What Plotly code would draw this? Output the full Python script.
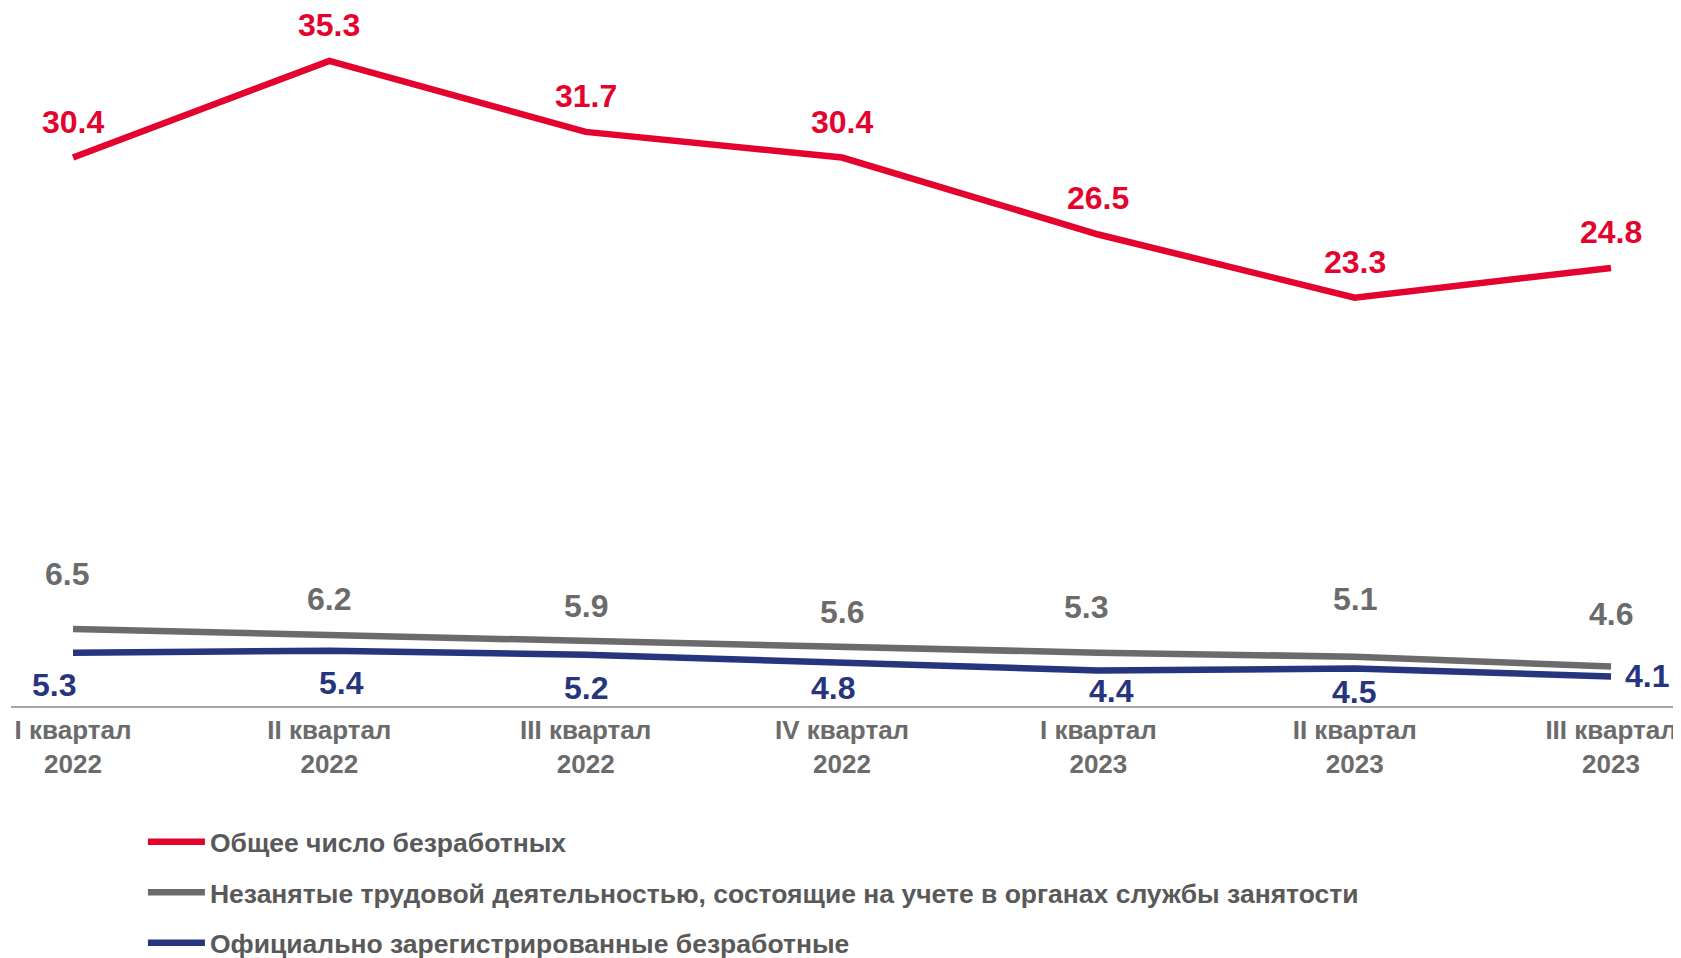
import plotly.graph_objects as go

categories = ["I квартал<br>2022", "II квартал<br>2022", "III квартал<br>2022", "IV квартал<br>2022",
              "I квартал<br>2023", "II квартал<br>2023", "III квартал<br>2023"]
total_unemployed = [30.4, 35.3, 31.7, 30.4, 26.5, 23.3, 24.8]
registered_jobless = [6.5, 6.2, 5.9, 5.6, 5.3, 5.1, 4.6]
official_unemployed = [5.3, 5.4, 5.2, 4.8, 4.4, 4.5, 4.1]
series_names = ["Общее число безработных",
                "Незанятые трудовой деятельностью, состоящие на учете в органах службы занятости",
                "Официально зарегистрированные безработные"]

RED = "#E4032E"
GRAY = "#6B6B6B"
BLUE = "#27357F"
FONT = "Liberation Sans"

# label offsets (pixels) for the data labels
red_off = [(0, 36)] * 7
gray_off = [(-6, 55), (0, 36), (0, 35), (0, 35), (-12, 46), (0, 58), (0, 53)]
blue_off = [(-19, -32), (12, -32), (0, -33), (-9, -25), (13, -21), (-1, -23), (36, 0)]

x_idx = list(range(len(categories)))

fig = go.Figure()
for i, (vals, col) in enumerate([(total_unemployed, RED), (registered_jobless, GRAY), (official_unemployed, BLUE)]):
    fig.add_trace(go.Scatter(
        x=x_idx, y=vals, mode="lines", name=series_names[i],
        line=dict(color=col, width=6.5), legendgroup=f"g{i}", hoverinfo="skip"))

annotations = []
for vals, col, offs in [(total_unemployed, RED, red_off), (registered_jobless, GRAY, gray_off),
                        (official_unemployed, BLUE, blue_off)]:
    for xi, v, (dx, dy) in zip(x_idx, vals, offs):
        annotations.append(dict(
            x=xi, y=v, xref="x", yref="y", text=f"<b>{v:.1f}</b>", showarrow=False,
            xshift=dx, yshift=dy, font=dict(family=FONT, size=32, color=col),
            xanchor="center", yanchor="middle"))

# the page body adds an 8px margin, so the figure is 8px smaller than the window
fig.update_layout(
    width=1673, height=950,
    margin=dict(l=3, r=0, t=0, b=252, autoexpand=False),
    paper_bgcolor="white", plot_bgcolor="white",
    showlegend=True,
    legend=dict(x=0.079, y=-0.1605, xanchor="left", yanchor="top",
                font=dict(family=FONT, size=26.5, color="#595959", weight="bold"),
                tracegroupgap=13, itemwidth=57, bgcolor="rgba(0,0,0,0)"),
    annotations=annotations,
    font=dict(family=FONT),
)
fig.update_xaxes(
    tickmode="array", tickvals=x_idx, ticktext=[f"<b>{c}</b>" for c in categories],
    range=[-0.242, 6.273], showgrid=False, zeroline=False, automargin=False,
    showline=True, linecolor="#A6A6A6", linewidth=1.5, ticks="",
    tickfont=dict(family=FONT, size=26, color="#6B6B6B"))
fig.update_yaxes(range=[2.6, 37.98], showgrid=False, zeroline=False, showticklabels=False,
                 showline=False, automargin=False)

fig.write_html("out.html")
